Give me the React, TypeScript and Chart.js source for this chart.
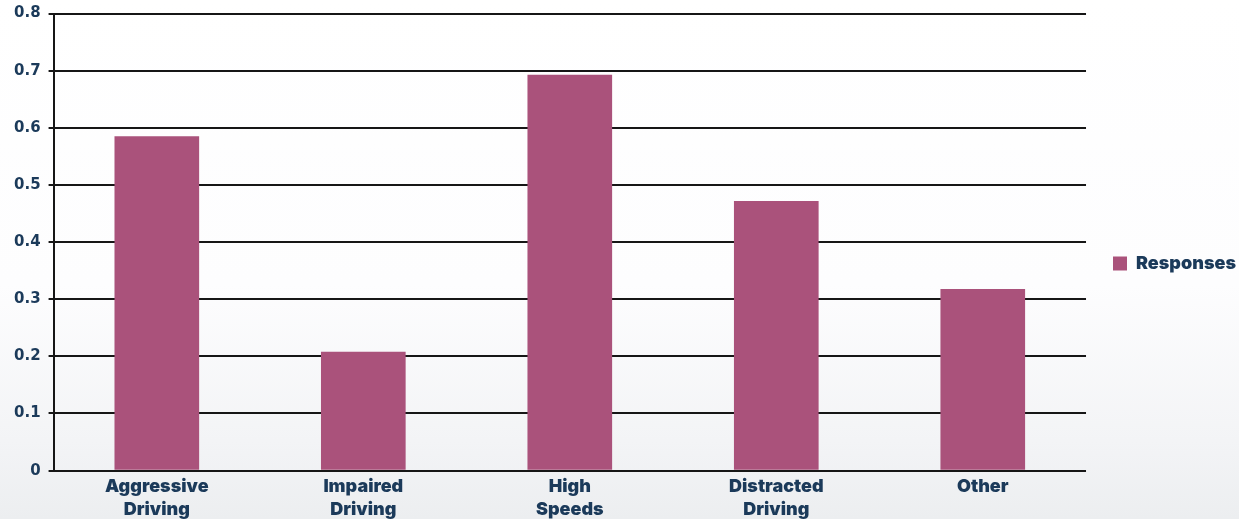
import React, { useEffect, useRef } from "react";
import { Chart, registerables } from "chart.js";

Chart.register(...registerables);

const categories: (string | string[])[] = [
  ["Aggressive", "Driving"],
  ["Impaired", "Driving"],
  ["High", "Speeds"],
  ["Distracted", "Driving"],
  "Other",
];
const responses = [0.585, 0.208, 0.693, 0.472, 0.318];
const seriesName = "Responses";
const yTicks = [0, 0.1, 0.2, 0.3, 0.4, 0.5, 0.6, 0.7, 0.8];

const BAR = "#aa527b";
const INK = "#1b3a5a";
const LABEL_FONT = { family: "Inter", weight: "900" as any, size: 18, lineHeight: 1.26 };

export default function App() {
  const ref = useRef<HTMLCanvasElement | null>(null);

  useEffect(() => {
    if (!ref.current) return;
    const chart = new Chart(ref.current, {
      type: "bar",
      data: {
        labels: categories,
        datasets: [
          {
            label: seriesName,
            data: responses,
            backgroundColor: BAR,
            borderWidth: 0,
            barPercentage: 0.41,
            categoryPercentage: 1,
          },
        ],
      },
      options: {
        animation: false,
        responsive: false,
        maintainAspectRatio: false,
        layout: { padding: { top: 1, right: -7, left: 6, bottom: -7 } },
        plugins: {
          tooltip: { enabled: false },
          legend: {
            position: "right",
            align: "center",
            labels: {
              boxWidth: 14,
              boxHeight: 14,
              padding: 4,
              color: INK,
              font: LABEL_FONT,
            },
          },
        },
        scales: {
          x: {
            grid: { display: false, drawTicks: false },
            border: { display: false },
            ticks: {
              color: INK,
              padding: 5,
              maxRotation: 0,
              autoSkip: false,
              font: LABEL_FONT,
            },
          },
          y: {
            min: yTicks[0],
            max: yTicks[yTicks.length - 1],
            afterBuildTicks: (axis: any) => {
              axis.ticks = yTicks.map((v) => ({ value: v }));
            },
            afterFit: (s: any) => {
              s.paddingTop = 13.5;
            },
            grid: {
              color: "#161616",
              lineWidth: 2,
              tickLength: 5,
              drawTicks: true,
            },
            border: { display: true, color: "#161616", width: 2 },
            ticks: {
              color: INK,
              padding: 8,
              font: { family: "DejaVu Sans", weight: "bold", size: 15 },
              callback: (v: any) => (Number(v) === 0 ? "0" : Number(v).toFixed(1)),
            },
          },
          // empty right-hand gutter between the plot and the legend
          gap: {
            position: "right",
            display: true,
            grid: { display: false, drawTicks: false },
            border: { display: false },
            ticks: { display: false },
            afterFit: (s: any) => {
              s.width = 23;
            },
          },
        },
      },
    });
    return () => chart.destroy();
  }, []);

  return (
    <div
      style={{
        position: "fixed",
        left: 0,
        top: 0,
        width: 1239,
        height: 519,
        background: "linear-gradient(180deg, #ffffff 0%, #fdfdfe 55%, #f3f4f6 85%, #eceef0 100%)",
      }}
    >
      <canvas ref={ref} width={1239} height={519} />
    </div>
  );
}
